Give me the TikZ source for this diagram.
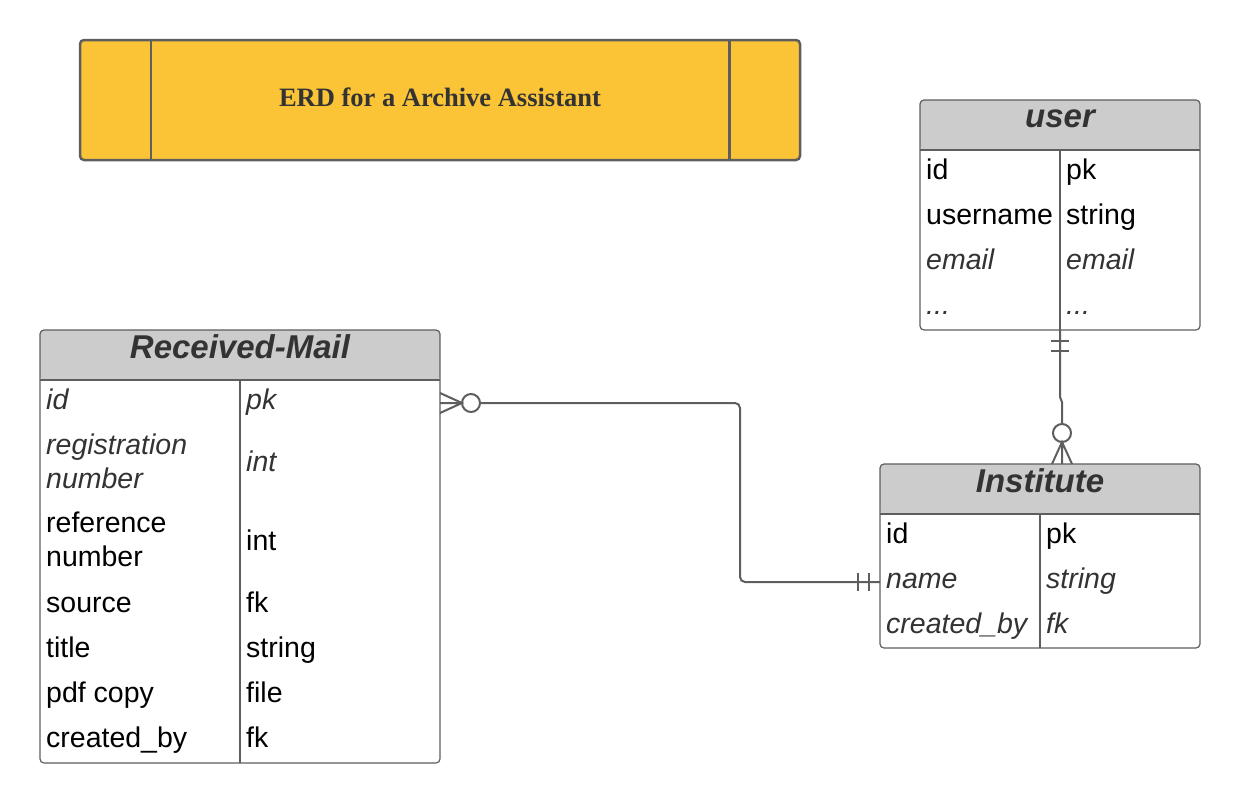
\documentclass[tikz,border=0pt]{standalone}
\usepackage{fontspec}
\usepackage{tikz}
\usetikzlibrary{calc}
\newfontfamily\erdsans{Liberation Sans}
\newfontfamily\erdserif{Liberation Serif}
\definecolor{linegray}{HTML}{5E5E5E}
\definecolor{hdrgray}{HTML}{CCCCCC}
\definecolor{titleyellow}{HTML}{FBC437}
\definecolor{textdark}{HTML}{333333}

\begin{document}
\begin{tikzpicture}[
	x=1pt, y=-1pt,
	entity/.style={
		draw=linegray,
		line width=1.2,
		fill=white,
		rounded corners=4,
		inner sep=0, outer sep=0,
		path picture={
			\fill[hdrgray] (path picture bounding box.north west) rectangle ([yshift=-50pt]path picture bounding box.north east);
			\draw[linegray, line width=1.2] ([yshift=-50pt]path picture bounding box.north west) -- ([yshift=-50pt]path picture bounding box.north east);
			\draw[linegray, line width=1.2] ([yshift=-50pt]path picture bounding box.north) -- (path picture bounding box.south);
		}
	},
	head/.style={
		font=\erdsans\bfseries\itshape\fontsize{33}{40}\selectfont,
		text=textdark, inner sep=0, anchor=base
	},
	attr/.style={
		font=\erdsans\fontsize{28.5}{34}\selectfont,
		inner sep=0, anchor=base west
	},
	attrit/.style={
		attr,
		font=\erdsans\itshape\fontsize{28.5}{34}\selectfont,
		text=textdark
	},
	titlebox/.style={
		draw=linegray, line width=2.5, fill=titleyellow,
		rounded corners=4,
		minimum width=720, minimum height=120,
		text depth=6pt,
		font=\erdserif\bfseries\fontsize{26.5}{32}\selectfont,
		text=textdark
	},
	rel/.style={draw=linegray, line width=2}
]
\useasboundingbox (0,0) rectangle (1240,803);

\node[titlebox] (title) at (440,100) {ERD for a Archive Assistant};
\draw[linegray, line width=2.5] ([xshift=72pt]title.north west) -- ([xshift=72pt]title.south west);
\draw[linegray, line width=2.5] ([xshift=-72pt]title.north east) -- ([xshift=-72pt]title.south east);

\node[entity, minimum width=280, minimum height=230, anchor=north west] (user) at (920,100) {};
\node[head] (username) at (1060,127) {user};
\node[attr] (userid) at (926,179) {id};
\node[attr] (useridtype) at (1066,179) {pk};
\node[attr] (userlogin) at (926,224) {username};
\node[attr] (userlogintype) at (1066,224) {string};
\node[attrit] (usermail) at (926,269) {email};
\node[attrit] (usermailtype) at (1066,269) {email};
\node[attrit] (usermore) at (926,314) {...};
\node[attrit] (usermoretype) at (1066,314) {...};

\node[entity, minimum width=400, minimum height=433, anchor=north west] (mail) at (40,330) {};
\node[head] (mailname) at (240,358) {Received-Mail};
\node[attrit] (mailid) at (46,409) {id};
\node[attrit] (mailidtype) at (246,409) {pk};
\node[attrit, anchor=west, align=left] (mailreg) at (46,461) {registration\\number};
\node[attrit] (mailregtype) at (246,471) {int};
\node[attr, anchor=west, align=left] (mailref) at (46,539) {reference\\number};
\node[attr] (mailreftype) at (246,550) {int};
\node[attr] (mailsource) at (46,612) {source};
\node[attr] (mailsourcetype) at (246,612) {fk};
\node[attr] (mailtitle) at (46,657) {title};
\node[attr] (mailtitletype) at (246,657) {string};
\node[attr] (mailpdf) at (46,702) {pdf copy};
\node[attr] (mailpdftype) at (246,702) {file};
\node[attr] (mailby) at (46,747) {created\_by};
\node[attr] (mailbytype) at (246,747) {fk};

\node[entity, minimum width=320, minimum height=184, anchor=north west] (inst) at (880,464) {};
\node[head] (instname) at (1040,492) {Institute};
\node[attr] (instid) at (886,543) {id};
\node[attr] (instidtype) at (1046,543) {pk};
\node[attrit] (instlabel) at (886,588) {name};
\node[attrit] (instlabeltype) at (1046,588) {string};
\node[attrit] (instby) at (886,633) {created\_by};
\node[attrit] (instbytype) at (1046,633) {fk};

\coordinate (mailfk) at ([yshift=-73pt]mail.north east);
\coordinate (instleft) at ([yshift=-118pt]inst.north west);
\coordinate (userend) at (user.south);
\coordinate (instuser) at ([xshift=22pt]inst.north);

\draw[rel, rounded corners=5] ($(mailfk)+(40,0)$) -- ++(260,0) |- (instleft);
\draw[rel] ($(mailfk)+(31,0)$) circle[radius=9];
\draw[rel] ($(mailfk)+(0,-10)$) -- ($(mailfk)+(22,0)$) -- ($(mailfk)+(0,10)$)
	(mailfk) -- ($(mailfk)+(22,0)$);
\draw[rel] ($(instleft)+(-22,-9)$) -- ($(instleft)+(-22,9)$)
	($(instleft)+(-11,-9)$) -- ($(instleft)+(-11,9)$);

\draw[rel] (userend) -- ++(0,67) -- ++(2,5) -- ($(instuser)+(0,-40)$);
\draw[rel] ($(userend)+(-9,11)$) -- ($(userend)+(9,11)$)
	($(userend)+(-9,21)$) -- ($(userend)+(9,21)$);
\draw[rel] ($(instuser)+(0,-31)$) circle[radius=9];
\draw[rel] ($(instuser)+(-10,0)$) -- ($(instuser)+(0,-22)$) -- ($(instuser)+(10,0)$)
	(instuser) -- ($(instuser)+(0,-22)$);
\end{tikzpicture}
\end{document}
